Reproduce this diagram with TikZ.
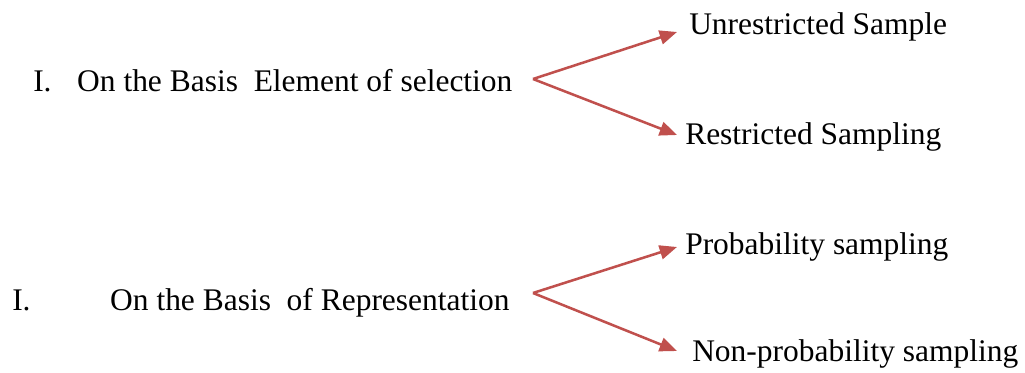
\documentclass[tikz,border=0pt]{standalone}
\usepackage{fontspec}
\setmainfont{Liberation Serif}
\usetikzlibrary{arrows.meta}
\definecolor{arrowred}{HTML}{C0504D}
\begin{document}
\begin{tikzpicture}[x=0.75pt,y=-0.75pt,
  txt/.style={inner sep=0pt,anchor=base west,font=\fontsize{23.6pt}{28pt}\selectfont},
  branch/.style={draw=arrowred,line width=1.9pt,-{Triangle[length=13pt,width=10.5pt]}}]
\useasboundingbox (0,0) rectangle (1025,373);

% first classification
\node[txt] (lblA) at (33,92) {I.\hspace{19.2pt}On the Basis\ \ Element of selection};
\node[txt] (a1) at (689,35) {Unrestricted Sample};
\node[txt] (a2) at (685,145) {Restricted Sampling};
\coordinate (forkA) at (533,79);
\coordinate (tipA1) at (677,32);
\coordinate (tipA2) at (677,135);
\draw[branch] (forkA) -- (tipA1);
\draw[branch] (forkA) -- (tipA2);

% second classification
\node[txt] (lblB) at (12,311) {I.\hspace{59.7pt}On the Basis\ \ of Representation};
\node[txt] (b1) at (685,255) {Probability sampling};
\node[txt] (b2) at (692,362) {Non-probability sampling};
\coordinate (forkB) at (533,293);
\coordinate (tipB1) at (677,247);
\coordinate (tipB2) at (677,351);
\draw[branch] (forkB) -- (tipB1);
\draw[branch] (forkB) -- (tipB2);
\end{tikzpicture}
\end{document}
